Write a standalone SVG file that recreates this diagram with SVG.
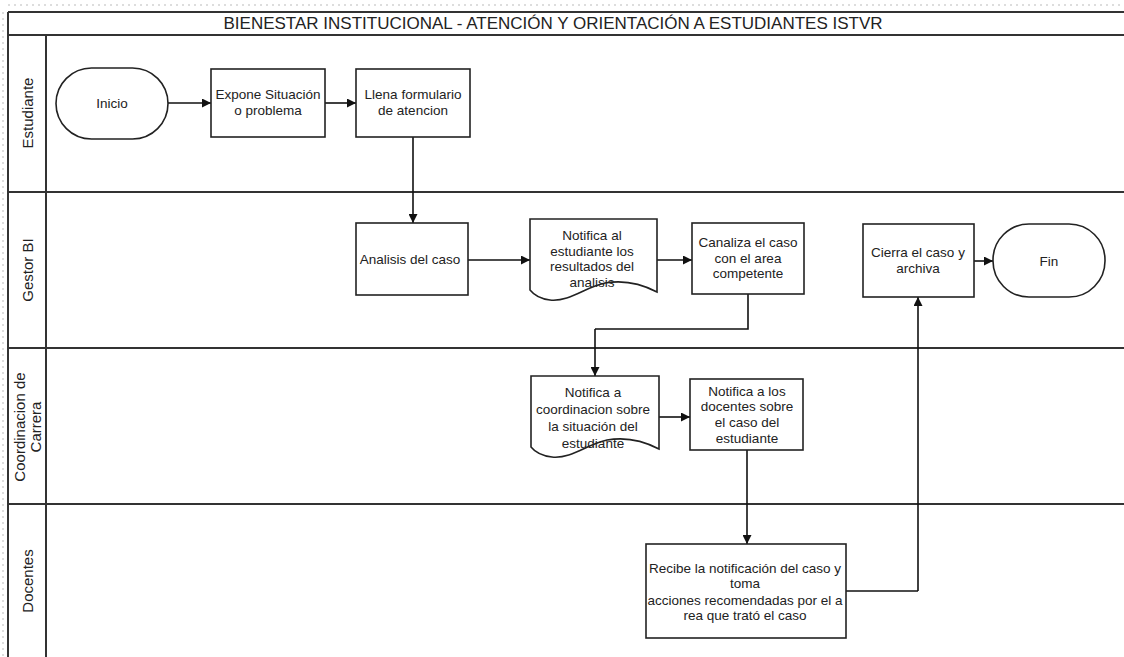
<svg xmlns="http://www.w3.org/2000/svg" width="1124" height="657" viewBox="0 0 1124 657">
<defs>
<marker id="arr" viewBox="0 0 10 10" refX="10" refY="5" markerWidth="9" markerHeight="9" markerUnits="userSpaceOnUse" orient="auto">
<path d="M0,0 L10,5 L0,10 Z" fill="#111"/>
</marker>
<style>
.lane{stroke:#333;stroke-width:2;fill:none}
.ruler{stroke:#bbb;stroke-width:1;stroke-dasharray:2 4;fill:none}
.box{fill:#fff;stroke:#222;stroke-width:1.6}
.t{font-family:"Liberation Sans",Arial,sans-serif;font-size:13.5px;fill:#222;text-anchor:middle}
.title{font-family:"Liberation Sans",Arial,sans-serif;font-size:17px;fill:#222;text-anchor:middle}
.lbl{font-family:"Liberation Sans",Arial,sans-serif;font-size:15px;fill:#222;text-anchor:middle;dominant-baseline:central}
.c{fill:none;stroke:#111;stroke-width:1.6;marker-end:url(#arr)}
.cn{fill:none;stroke:#111;stroke-width:1.6}
</style>
</defs>
<rect width="1124" height="657" fill="#fff"/>
<g id="pool">
<line class="ruler" x1="8" y1="5" x2="1124" y2="5"/>
<line class="ruler" x1="3" y1="12" x2="3" y2="657"/>
<line class="lane" x1="8" y1="12" x2="1124" y2="12"/>
<line class="lane" x1="8" y1="12" x2="8" y2="657"/>
<line class="lane" x1="8" y1="35" x2="1124" y2="35"/>
<line class="lane" x1="46" y1="35" x2="46" y2="657"/>
<line class="lane" x1="8" y1="192" x2="1124" y2="192"/>
<line class="lane" x1="8" y1="348" x2="1124" y2="348"/>
<line class="lane" x1="8" y1="504" x2="1124" y2="504"/>
<text class="title" x="553" y="29">BIENESTAR INSTITUCIONAL - ATENCIÓN Y ORIENTACIÓN A ESTUDIANTES ISTVR</text>
</g>
<g id="lane-estudiante"><text class="lbl" transform="translate(27,113) rotate(-90)">Estudiante</text></g>
<g id="lane-gestor"><text class="lbl" transform="translate(27,270) rotate(-90)">Gestor BI</text></g>
<g id="lane-coordinacion"><text class="lbl" transform="translate(27,427) rotate(-90)"><tspan x="0" y="-8">Coordinacion de</tspan><tspan x="0" y="8">Carrera</tspan></text></g>
<g id="lane-docentes"><text class="lbl" transform="translate(27,581) rotate(-90)">Docentes</text></g>

<g id="connectors">
<path class="c" d="M168,103 H211"/>
<path class="c" d="M325,103 H356"/>
<path class="c" d="M413,137 V223"/>
<path class="c" d="M468,260 H530"/>
<path class="c" d="M657,260 H692"/>
<path class="cn" d="M748,294 V329 H595"/>
<path class="c" d="M595,329 V376"/>
<path class="c" d="M659,417 H690"/>
<path class="c" d="M747,450 V544"/>
<path class="cn" d="M846,591 H918"/>
<path class="c" d="M918,591 V297"/>
<path class="c" d="M974,261 H993"/>
</g>

<g id="inicio">
<rect class="box" x="56" y="68" width="112" height="71" rx="35.5" ry="35.5"/>
<text class="t" x="112" y="108">Inicio</text>
</g>
<g id="expone">
<rect class="box" x="211" y="69" width="114" height="68"/>
<text class="t" x="268" y="99">Expone Situación</text>
<text class="t" x="268" y="115">o problema</text>
</g>
<g id="llena">
<rect class="box" x="356" y="69" width="114" height="68"/>
<text class="t" x="413" y="99">Llena formulario</text>
<text class="t" x="413" y="115">de atencion</text>
</g>
<g id="analisis">
<rect class="box" x="356" y="223" width="112" height="72"/>
<text class="t" x="410" y="264">Analisis del caso</text>
</g>
<g id="notifica-estudiante">
<path class="box" d="M530,219 H657 V292 C640,283 622,280 605,283 C585,287 570,302 550,300 C541,299 534,295 530,290 Z"/>
<text class="t" x="592" y="240">Notifica al</text>
<text class="t" x="592" y="256">estudiante los</text>
<text class="t" x="592" y="271">resultados del</text>
<text class="t" x="592" y="287">analisis</text>
</g>
<g id="canaliza">
<rect class="box" x="692" y="223" width="112" height="71"/>
<text class="t" x="748" y="247">Canaliza el caso</text>
<text class="t" x="748" y="263">con el area</text>
<text class="t" x="748" y="278">competente</text>
</g>
<g id="cierra">
<rect class="box" x="863" y="224" width="111" height="73"/>
<text class="t" x="918" y="257">Cierra el caso y</text>
<text class="t" x="918" y="273">archiva</text>
</g>
<g id="fin">
<rect class="box" x="993" y="224" width="112" height="73" rx="36" ry="36"/>
<text class="t" x="1049" y="266">Fin</text>
</g>
<g id="notifica-coordinacion">
<path class="box" d="M531,376 H659 V449 C642,440 624,437 607,440 C587,444 572,459 552,457 C543,456 535,452 531,447 Z"/>
<text class="t" x="593" y="397">Notifica a</text>
<text class="t" x="593" y="414">coordinacion sobre</text>
<text class="t" x="593" y="431">la situación del</text>
<text class="t" x="593" y="448">estudiante</text>
</g>
<g id="notifica-docentes">
<rect class="box" x="690" y="379" width="113" height="71"/>
<text class="t" x="747" y="396">Notifica a los</text>
<text class="t" x="747" y="411">docentes sobre</text>
<text class="t" x="747" y="427">el caso del</text>
<text class="t" x="747" y="443">estudiante</text>
</g>
<g id="recibe">
<rect class="box" x="646" y="544" width="200" height="94"/>
<text class="t" x="745" y="573">Recibe la notificación del caso y</text>
<text class="t" x="745" y="588">toma</text>
<text class="t" x="745" y="605">acciones recomendadas por el a</text>
<text class="t" x="745" y="620">rea que trató el caso</text>
</g>
</svg>
